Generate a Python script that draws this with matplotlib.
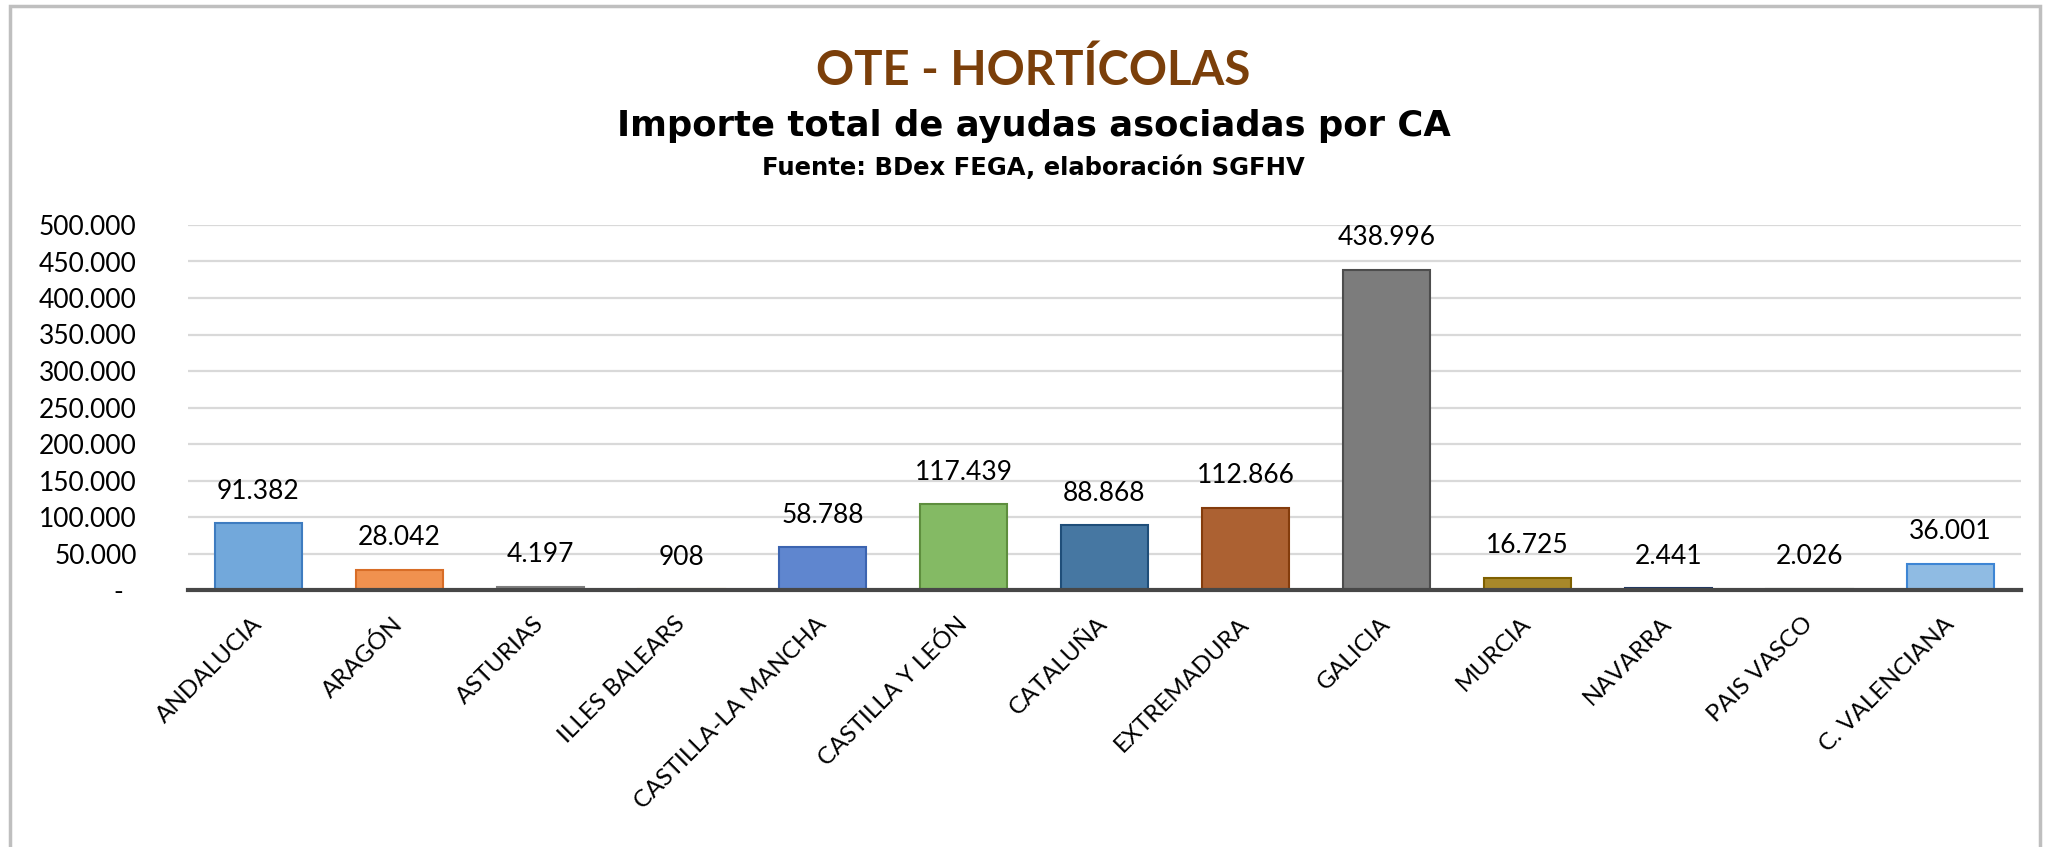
import matplotlib
matplotlib.use("Agg")
import matplotlib.pyplot as plt
from matplotlib.patches import Rectangle
from matplotlib.ticker import FuncFormatter
from matplotlib.transforms import ScaledTranslation
from matplotlib import font_manager
import numpy as np

# datos
comunidades = ["ANDALUCIA", "ARAGÓN", "ASTURIAS", "ILLES BALEARS", "CASTILLA-LA MANCHA",
               "CASTILLA Y LEÓN", "CATALUÑA", "EXTREMADURA", "GALICIA", "MURCIA",
               "NAVARRA", "PAIS VASCO", "C. VALENCIANA"]
importes = [91382, 28042, 4197, 908, 58788, 117439, 88868, 112866, 438996, 16725,
            2441, 2026, 36001]
y_ticks = [0, 50000, 100000, 150000, 200000, 250000, 300000, 350000, 400000, 450000, 500000]

colores = ["#72A8DB", "#F0914F", "#A5A5A5", "#FFC000", "#5F86CF", "#84BA64", "#4677A2",
           "#AC6132", "#7C7C7C", "#A8882A", "#2F4F80", "#56794A", "#8FBBE3"]
bordes = ["#3E7CC0", "#D86D27", "#7F7F7F", "#BF9000", "#3C64B0", "#5E8E3E", "#1F4E79",
          "#843C0C", "#4D4D4D", "#7F6000", "#203864", "#375623", "#3D85D4"]

names = {f.name for f in font_manager.fontManager.ttflist}
fuente = "Lato" if "Lato" in names else "DejaVu Sans"
plt.rcParams["font.family"] = [fuente, "DejaVu Sans"]

W, H = 2067, 847


def miles(v):
    # formato espanol con punto de miles
    return f"{int(round(v)):,}".replace(",", ".")


fig = plt.figure(figsize=(W / 100, H / 100), dpi=100)
ax = fig.add_axes([188 / W, 1 - 590 / H, (2021 - 188) / W, 365 / H])

x = np.arange(len(comunidades))
bars = ax.bar(x, importes, width=0.61, color=colores, edgecolor=bordes, linewidth=1.5, zorder=3)

ax.set_xlim(-0.5, len(comunidades) - 0.5)
ax.set_ylim(0, 500000)
ax.set_yticks(y_ticks)
ax.yaxis.set_major_formatter(FuncFormatter(lambda v, p: "-" if v == 0 else miles(v)))
ax.grid(axis="y", color="#D9D9D9", linewidth=1.6, zorder=0)
ax.tick_params(axis="both", length=0, colors="black")
ax.tick_params(axis="y", pad=37, labelsize=19)
for s in ["top", "right", "left"]:
    ax.spines[s].set_visible(False)
ax.spines["bottom"].set_color("#474747")
ax.spines["bottom"].set_linewidth(3)
ax.spines["bottom"].set_zorder(4)

# el guion del cero queda algo a la izquierda (formato contable)
fig.canvas.draw()
ylab0 = ax.get_yticklabels()[0]
ylab0.set_transform(ylab0.get_transform() + ScaledTranslation(-13 / 100, 0, fig.dpi_scale_trans))

ax.set_xticks(x)
ax.set_xticklabels(comunidades, rotation=45, ha="right", va="center",
                   rotation_mode="anchor", fontsize=17.5)
ax.tick_params(axis="x", pad=22)

for b, v in zip(bars, importes):
    ax.annotate(miles(v), (b.get_x() + b.get_width() / 2, v), xytext=(0, 14),
                textcoords="offset points", ha="center", va="bottom", fontsize=19)

fig.text(0.5, 1 - 85 / H, "OTE - HORTÍCOLAS", ha="center", va="baseline",
         fontsize=34, fontweight="bold", color="#7B3F0A")
fig.text(0.5, 1 - 136 / H, "Importe total de ayudas asociadas por CA", ha="center",
         va="baseline", fontsize=25.5, fontweight="bold", color="black", family="DejaVu Sans")
fig.text(0.5, 1 - 175 / H, "Fuente: BDex FEGA, elaboración SGFHV", ha="center",
         va="baseline", fontsize=17.5, fontweight="bold", color="black", family="DejaVu Sans")

# marco del grafico
fig.patches.append(Rectangle((10 / W, -0.1), (2040 - 10) / W, 1.1 - 6 / H,
                             transform=fig.transFigure, fill=False, edgecolor="#BFBFBF",
                             linewidth=2.5))

fig.savefig("out.png", dpi=100)
